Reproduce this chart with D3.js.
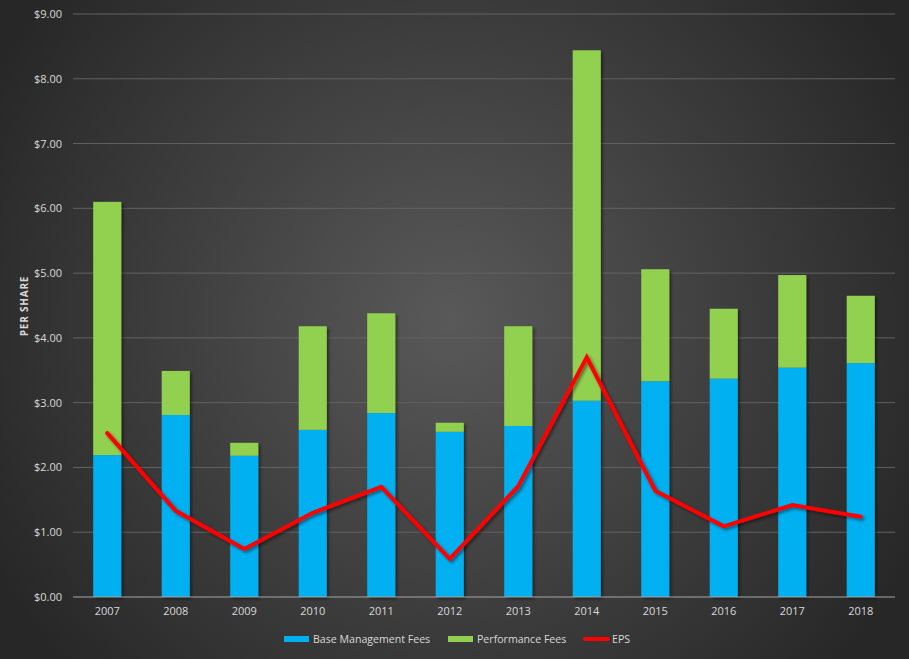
<!DOCTYPE html>
<html>
<head>
<meta charset="utf-8">
<title>Fees and EPS per share</title>
<style>
  body { margin: 0; padding: 0; background: #2b2b2b; }
  text { font-family: "Open Sans", "Noto Sans", sans-serif; fill: #d9d9d9; }
</style>
</head>
<body>
<div id="chart"></div>
<script src="https://d3js.org/d3.v7.min.js"></script>
<script>
// values
var years = ["2007","2008","2009","2010","2011","2012","2013","2014","2015","2016","2017","2018"];
var baseFees = [2.19, 2.81, 2.18, 2.58, 2.84, 2.55, 2.64, 3.03, 3.33, 3.37, 3.54, 3.61];
var perfFees = [3.91, 0.68, 0.20, 1.60, 1.54, 0.14, 1.54, 5.41, 1.73, 1.08, 1.43, 1.04];
var eps      = [2.53, 1.33, 0.74, 1.30, 1.70, 0.59, 1.71, 3.70, 1.64, 1.09, 1.42, 1.24];
var yTicks   = [0, 1, 2, 3, 4, 5, 6, 7, 8, 9];

var width = 909, height = 659;

var svg = d3.select("#chart").append("svg")
    .attr("width", width)
    .attr("height", height);

var defs = svg.append("defs");
var grad = defs.append("radialGradient")
    .attr("id", "bg")
    .attr("gradientUnits", "userSpaceOnUse")
    .attr("cx", 450).attr("cy", 320).attr("r", 520);
grad.append("stop").attr("offset", "0%").attr("stop-color", "#595959");
grad.append("stop").attr("offset", "100%").attr("stop-color", "#272727");

var shadow = defs.append("filter").attr("id", "shadow")
    .attr("x", "-20%").attr("y", "-20%").attr("width", "150%").attr("height", "150%");
shadow.append("feDropShadow")
    .attr("dx", 2).attr("dy", 2).attr("stdDeviation", 1.8)
    .attr("flood-color", "#000").attr("flood-opacity", 0.45);

svg.append("rect").attr("width", width).attr("height", height).attr("fill", "url(#bg)");

var x = d3.scaleBand().domain(years).range([73, 895]).paddingInner(0.59).paddingOuter(0.295);
var y = d3.scaleLinear().domain([0, 9]).range([597, 14]);

// gridlines
svg.append("g").selectAll("line")
  .data(yTicks.filter(function(d) { return d > 0; }))
  .enter().append("line")
    .attr("x1", 73).attr("x2", 895)
    .attr("y1", function(d) { return y(d); })
    .attr("y2", function(d) { return y(d); })
    .attr("stroke", "#626262")
    .attr("stroke-width", 1);

// y labels
svg.append("g").selectAll("text")
  .data(yTicks)
  .enter().append("text")
    .attr("x", 62)
    .attr("y", function(d) { return y(d) + 4; })
    .attr("text-anchor", "end")
    .style("font-size", "11px")
    .text(function(d) { return "$" + d.toFixed(2); });

svg.append("text")
    .attr("transform", "translate(28,306) rotate(-90)")
    .attr("text-anchor", "middle")
    .style("font-size", "10px")
    .style("font-weight", "bold")
    .style("letter-spacing", "0.8px")
    .text("PER SHARE");

// stacked bars
var bars = svg.append("g").attr("filter", "url(#shadow)");
years.forEach(function(yr, i) {
  bars.append("rect")
    .attr("x", x(yr))
    .attr("width", x.bandwidth())
    .attr("y", y(baseFees[i]))
    .attr("height", y(0) - y(baseFees[i]))
    .attr("fill", "#00b0f0");
  bars.append("rect")
    .attr("x", x(yr))
    .attr("width", x.bandwidth())
    .attr("y", y(baseFees[i] + perfFees[i]))
    .attr("height", y(baseFees[i]) - y(baseFees[i] + perfFees[i]))
    .attr("fill", "#92d050");
});

// baseline
svg.append("line")
    .attr("x1", 73).attr("x2", 895)
    .attr("y1", y(0)).attr("y2", y(0))
    .attr("stroke", "#a6a6a6").attr("stroke-width", 1);

// x labels
svg.append("g").selectAll("text")
  .data(years)
  .enter().append("text")
    .attr("x", function(d) { return x(d) + x.bandwidth() / 2; })
    .attr("y", 615)
    .attr("text-anchor", "middle")
    .style("font-size", "11px")
    .text(function(d) { return d; });

// EPS line
var line = d3.line()
    .x(function(d, i) { return x(years[i]) + x.bandwidth() / 2; })
    .y(function(d) { return y(d); });

svg.append("path")
    .datum(eps)
    .attr("d", line)
    .attr("fill", "none")
    .attr("stroke", "#ff0000")
    .attr("stroke-width", 4)
    .attr("stroke-linejoin", "miter")
    .attr("stroke-linecap", "round")
    .attr("filter", "url(#shadow)");

// legend
var legend = svg.append("g");
var items = [
  { name: "Base Management Fees", color: "#00b0f0", x: 284, type: "rect" },
  { name: "Performance Fees", color: "#92d050", x: 448, type: "rect" },
  { name: "EPS", color: "#ff0000", x: 583, type: "line" }
];
items.forEach(function(it) {
  if (it.type === "rect") {
    legend.append("rect").attr("x", it.x).attr("y", 636).attr("width", 25).attr("height", 6).attr("fill", it.color);
  } else {
    legend.append("line").attr("x1", it.x + 2).attr("x2", it.x + 25).attr("y1", 639).attr("y2", 639)
      .attr("stroke", it.color).attr("stroke-width", 4).attr("stroke-linecap", "round");
  }
  legend.append("text").attr("x", it.x + 29).attr("y", 643)
    .style("font-size", "10.6px").text(it.name);
});
</script>
</body>
</html>
